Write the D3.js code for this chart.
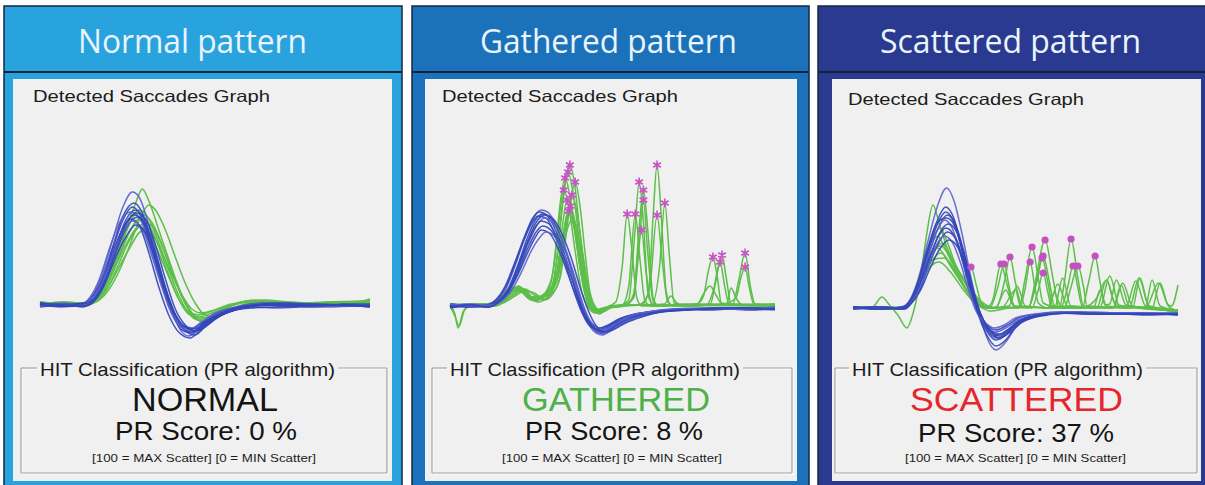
<!DOCTYPE html>
<html><head><meta charset="utf-8">
<script src="https://cdn.jsdelivr.net/npm/d3@7"></script>
<style>body{margin:0;background:#fff}svg{display:block}</style>
</head><body><svg id="c" width="1205" height="485"></svg>
<script>
// ---------------- DATA ----------------
const panelTitles = ["Normal pattern", "Gathered pattern", "Scattered pattern"];
const graphLabel = "Detected Saccades Graph";
const boxLabel = "HIT Classification (PR algorithm)";
const classLabels = ["NORMAL", "GATHERED", "SCATTERED"];
const prScores = [0, 8, 37];
const scaleNote = "[100 = MAX Scatter] [0 = MIN Scatter]";

// traces: [time (0-100), velocity, peakFlag]
const normalBlue = [
 [[0,0],[7,-2],[13,1],[16,10],[19,32],[22,65],[25,97],[28,113],[30,108],[33,80],[36,42],[39,5],[42,-22],[45,-31],[48,-25],[52,-13],[58,-5],[64,-2],[72,-3],[82,-1],[92,0],[100,-1]],
 [[0,2],[6,0],[13,2],[16,9],[19,28],[22,58],[25,88],[28.5,102],[31,92],[34,60],[37,25],[40,-5],[43,-22],[46,-27],[49,-20],[53,-11],[58,-4],[65,0],[72,1],[82,-2],[92,1],[100,0]],
 [[0,-1],[7,1],[13,-1],[16,6],[19,24],[22,55],[25,84],[28,98],[31,86],[34,55],[37,20],[40,-8],[43,-25],[46,-28],[49,-21],[53,-12],[59,-5],[66,-1],[74,0],[84,1],[100,-2]],
 [[0,1],[8,-1],[14,0],[17,8],[20,28],[23,58],[26,85],[29,95],[32,83],[35,52],[38,18],[41,-10],[44,-26],[47,-30],[50,-22],[54,-12],[60,-4],[67,0],[76,-2],[88,0],[100,1]],
 [[0,0],[7,2],[12,0],[15,7],[18,26],[21,56],[24,82],[27.5,93],[30,88],[33,62],[36,30],[39,-2],[42,-20],[45,-25],[48,-20],[52,-10],[58,-3],[65,1],[75,0],[86,-2],[100,0]],
 [[0,-2],[8,0],[13,-2],[16,5],[19,22],[22,50],[25,76],[28.5,90],[31,84],[34,55],[37,22],[40,-6],[43,-21],[46,-24],[49,-18],[54,-8],[60,-2],[68,2],[78,0],[90,-1],[100,-1]],
 [[0,1],[7,-1],[13,0],[16,6],[19,25],[22,52],[25,76],[27.5,86],[30,80],[33,52],[36,18],[39,-10],[42,-27],[45.5,-33],[48,-27],[52,-15],[58,-6],[64,-3],[72,-2],[84,0],[100,0]],
 [[0,0],[8,1],[14,1],[17,7],[20,25],[23,52],[26,76],[29.5,88],[32,80],[35,50],[38,16],[41,-10],[44,-22],[47,-26],[50,-20],[55,-10],[61,-3],[68,1],[78,-1],[90,0],[100,-2]],
 [[0,-1],[7,1],[13,0],[16,6],[19,23],[22,50],[25,72],[28,84],[31,76],[34,48],[37,17],[40,-8],[43,-20],[46,-23],[49,-17],[54,-8],[60,-2],[68,2],[80,1],[92,-1],[100,1]],
 [[0,2],[8,0],[14,2],[17,8],[20,24],[23,48],[26,68],[29,80],[32,72],[35,46],[38,15],[41,-9],[44,-22],[47,-24],[50,-17],[55,-8],[62,-1],[70,1],[82,0],[100,0]],
 [[0,0],[7,-1],[14,-1],[17,6],[20,24],[23,54],[26,80],[29,92],[32,86],[35,60],[38,26],[41,-4],[44,-20],[47,-26],[50,-22],[54,-12],[60,-4],[66,0],[74,2],[86,0],[100,-1]]
];
const normalGreen = [
 [[0,2],[7,0],[14,2],[17,9],[20,25],[23,48],[26,75],[29,102],[31,116],[33,104],[36,75],[39,46],[42,18],[45,-3],[48,-13],[51,-12],[55,-5],[60,2],[65,5],[70,3],[78,1],[86,2],[94,2],[100,6]],
 [[0,0],[8,2],[14,0],[17,6],[20,20],[23,45],[26,72],[30,95],[33,86],[36,62],[39,35],[42,10],[45,-8],[48,-15],[51,-12],[55,-5],[61,2],[66,4],[73,2],[82,0],[92,2],[100,3]],
 [[0,3],[8,1],[15,2],[18,8],[21,24],[24,48],[27,72],[31.5,90],[34,82],[37,60],[40,33],[43,8],[46,-10],[49,-16],[52,-12],[56,-4],[62,3],[68,4],[76,1],[86,3],[100,4]],
 [[0,1],[7,3],[14,1],[17,6],[20,20],[23,42],[26,66],[30.5,86],[33,80],[36,58],[39,30],[42,6],[45,-9],[48,-12],[52,-8],[57,-1],[63,4],[70,3],[80,1],[90,2],[100,2]],
 [[0,2],[8,0],[15,1],[18,6],[21,20],[24,42],[27,64],[32,82],[35,74],[38,50],[41,24],[44,2],[47,-12],[50,-18],[53,-14],[57,-6],[63,1],[70,3],[80,2],[92,1],[100,3]],
 [[0,0],[8,2],[14,2],[17,6],[20,20],[23,40],[26,60],[30,78],[33,72],[36,52],[39,28],[42,6],[45,-7],[48,-10],[52,-6],[58,1],[64,3],[72,2],[84,0],[100,2]],
 [[0,3],[9,1],[15,3],[18,8],[21,20],[24,38],[27,56],[31,74],[34,70],[37,52],[40,30],[43,10],[46,-4],[49,-8],[53,-5],[58,0],[64,4],[72,3],[82,2],[92,3],[100,4]],
 [[0,1],[8,3],[15,1],[18,5],[21,16],[24,34],[27,58],[30,84],[33,100],[35,95],[38,75],[41,48],[44,22],[47,2],[50,-10],[53,-12],[57,-6],[62,1],[68,5],[75,3],[85,2],[100,4]]
];
const gatheredBlue = [
 [[0,0],[6,1],[11,-1],[14,4],[17,16],[20,40],[23,68],[26,90],[28,96],[30,94],[33,78],[36,50],[39,18],[41,-6],[43,-20],[45,-27],[47,-29],[50,-22],[55,-14],[60,-9],[66,-5],[74,-3],[84,-2],[92,-3],[100,-2]],
 [[0,2],[7,0],[11,1],[14,6],[17,20],[20,44],[23,70],[25.5,88],[27.5,94],[30,90],[33,72],[36,44],[39,12],[41,-8],[43,-18],[45.5,-24],[48,-22],[52,-15],[57,-10],[63,-6],[70,-3],[80,-4],[90,-2],[100,-3]],
 [[0,-1],[6,0],[12,0],[15,5],[18,18],[21,42],[24,70],[26.5,87],[28.5,92],[31,88],[34,70],[37,42],[40,10],[42,-10],[44,-22],[46.5,-27],[49,-24],[53,-16],[58,-10],[64,-6],[72,-4],[82,-2],[92,-4],[100,-2]],
 [[0,1],[7,-1],[11,0],[14,5],[17,18],[20,42],[23,68],[25,82],[27,90],[29.5,88],[32,74],[35,48],[38,16],[40.5,-6],[42.5,-18],[45,-23],[48,-20],[52,-13],[57,-8],[64,-5],[72,-3],[84,-3],[100,-2]],
 [[0,0],[6,2],[12,0],[15,4],[18,15],[21,36],[24,62],[27,82],[29,88],[31.5,84],[34.5,66],[37.5,38],[40.5,6],[42.5,-12],[45,-24],[47.5,-28],[50,-24],[54,-16],[59,-10],[65,-6],[74,-4],[86,-3],[100,-4]],
 [[0,-2],[7,0],[12,-1],[15,4],[18,16],[21,38],[24,64],[26.5,80],[28,85],[30.5,82],[33.5,64],[36.5,38],[39.5,8],[41.5,-10],[44,-20],[46,-25],[49,-22],[53,-14],[58,-9],[64,-5],[72,-4],[84,-2],[100,-3]],
 [[0,1],[6,-1],[12,1],[15,5],[18,15],[21,34],[24,58],[26.5,74],[28.5,80],[31,76],[34,58],[37,32],[40,4],[42,-12],[44.5,-22],[47,-26],[50,-21],[54,-13],[60,-8],[67,-5],[76,-3],[88,-2],[100,-2]],
 [[0,0],[7,1],[12,0],[15,4],[18,14],[21,32],[24,54],[26.5,70],[28,76],[30.5,73],[33.5,56],[36.5,30],[39.5,4],[41.5,-10],[44,-19],[46.5,-22],[49,-19],[53,-12],[59,-7],[66,-4],[76,-3],[88,-3],[100,-2]],
 [[0,2],[7,0],[13,1],[16,5],[19,16],[22,34],[25,55],[27.5,68],[29.5,74],[32,70],[35,52],[38,26],[41,0],[43,-14],[45.5,-22],[48,-24],[51,-18],[55,-11],[61,-6],[68,-3],[78,-2],[90,-3],[100,-1]],
 [[0,-1],[6,1],[12,-1],[15,4],[18,16],[21,40],[24,66],[27,86],[29,91],[31.5,88],[34.5,72],[37.5,46],[40.5,14],[43,-8],[45,-20],[47.5,-26],[50,-24],[54,-17],[59,-11],[65,-6],[73,-4],[84,-2],[100,-3]]
];
const gatheredGreen = [
 [[0,1],[1.5,-8],[2.5,-22],[4,-6],[6,0],[10,1],[14,3],[17,10],[20,17],[23,14],[26,6],[29,12],[31,16],[33,50],[35,112],[36.9,141,1],[38.5,118],[40,72],[42,25],[44,0],[46,-8],[48,-3],[52,0],[58,1],[61,12],[62.5,90],[63.7,141,1],[65,90],[66.5,15],[68,1],[74,0],[80,1],[87,2],[88.8,25],[90.8,53,1],[92.5,18],[94,1],[100,0]],
 [[0,0],[1.5,-10],[2.8,-20],[4.5,-4],[7,1],[12,2],[15,6],[18,15],[21,19],[24,10],[27,8],[30,14],[32,25],[34,85],[36.3,134,1],[38,110],[40,60],[42,15],[44,-4],[46,-6],[49,-1],[53,1],[55,6],[56.8,70],[58.2,124,1],[59.6,80],[61,10],[63,0],[70,1],[76,2],[78,10],[79.5,35],[80.9,49,1],[82.2,30],[83.5,3],[88,1],[100,1]],
 [[0,2],[8,0],[13,2],[16,8],[19,16],[22,18],[25,9],[28,10],[30,17],[32,40],[33.8,100],[35.4,128,1],[37,108],[39,62],[41,20],[43,0],[45,-5],[48,-2],[54,1],[56.5,10],[58,70],[59.5,116,1],[61,70],[62.5,8],[64,1],[72,1],[80,1],[81.5,20],[82.7,40],[83.7,51,1],[85,28],[86.5,2],[92,1],[100,2]],
 [[0,1],[8,2],[14,1],[17,6],[20,14],[23,16],[26,7],[29,9],[32,15],[34,30],[36.5,90],[38.5,124,1],[40,100],[41.5,55],[43,15],[45,-2],[47,-6],[50,-1],[56,1],[62,1],[64.5,40],[66.1,103,1],[67.5,50],[69,3],[74,0],[79,1],[81,15],[83.1,44,1],[84.5,20],[86,1],[100,0]],
 [[0,0],[9,1],[14,2],[17,9],[20,18],[23,12],[26,5],[29,11],[31,22],[33,70],[35,116,1],[36.5,100],[38.5,55],[40.5,15],[42.5,-1],[45,-7],[48,-2],[53,0],[56.5,8],[58.2,60],[59.5,106,1],[60.8,55],[62.5,5],[64,0],[76,1],[84,2],[88,8],[89.5,28],[90.8,39,1],[92,20],[93.5,2],[100,1]],
 [[0,2],[8,1],[13,3],[16,10],[19,19],[22,15],[25,6],[28,8],[31,14],[33.5,32],[35.5,80],[37.5,111,1],[39,95],[41,50],[43,10],[45,-4],[47,-3],[49,0],[51,4],[53,40],[54.5,92,1],[56,55],[57.5,8],[59,0],[68,1],[76,2],[78,12],[80,20],[82,10],[84,1],[100,1]],
 [[0,0],[8,2],[14,0],[17,5],[20,12],[23,17],[26,11],[29,7],[31,12],[33,35],[34.8,85],[36,106,1],[37.8,90],[40,45],[42,10],[44,-3],[46,-5],[49,-1],[53,1],[55,20],[57,92,1],[58.5,45],[60,5],[62,0],[70,1],[80,2],[85,1],[86.5,18],[88,8],[90,1],[100,0]],
 [[0,1],[9,2],[14,1],[17,4],[20,10],[23,15],[26,13],[29,6],[32,14],[34,32],[35.5,75],[37,100,1],[38.6,82],[40.5,42],[42.5,8],[44.5,-4],[47,-2],[52,1],[59,1],[61.5,20],[63.7,91,1],[65.3,45],[67,4],[69,0],[78,1],[88,2],[100,1]],
 [[0,2],[8,0],[15,2],[18,11],[21,20],[24,12],[27,4],[30,9],[32,20],[34,55],[36.5,95,1],[38,80],[40,38],[42,6],[44,-6],[46,-7],[49,-2],[54,0],[56.5,12],[58.9,76,1],[60.3,35],[62,3],[64,0],[72,2],[84,1],[100,2]],
 [[0,1],[10,0],[15,4],[18,12],[21,16],[24,9],[27,7],[30,14],[33,28],[35.5,70],[37.8,88],[39.5,70],[41.5,30],[43.5,2],[46,-4],[50,0],[60,1],[66,2],[68,10],[69.5,4],[71,1],[100,1]],
 [[0,0],[9,2],[15,3],[18,14],[21,18],[24,8],[27,6],[30,13],[33,30],[35,75],[36.8,92],[38.5,78],[40.5,35],[42.5,4],[45,-5],[49,-1],[55,1],[100,0]]
];
const scatteredBlue = [
 [[0,0],[8,-1],[15,1],[17.5,8],[20,28],[23,66],[26,102],[28.8,120],[31,108],[33.5,75],[36,35],[38.5,0],[41,-28],[44,-42],[47,-34],[50,-20],[54,-10],[60,-6],[68,-4],[78,-6],[88,-5],[100,-6]],
 [[0,1],[8,0],[15,0],[17.5,6],[20,25],[23,58],[26,88],[28.5,101],[31,90],[33.5,60],[36,25],[38.5,-4],[41,-22],[44,-32],[47,-27],[50,-16],[55,-9],[62,-5],[72,-6],[84,-5],[100,-7]],
 [[0,-1],[8,1],[15,-1],[17.5,5],[20,22],[23,55],[26,84],[28.5,96],[31,86],[33.5,58],[36,24],[38.5,-2],[41,-20],[44.5,-30],[47.5,-25],[51,-14],[56,-8],[63,-5],[74,-5],[86,-6],[100,-5]],
 [[0,1],[7,-1],[16,0],[18,6],[20.5,24],[23.5,56],[26.5,82],[29,93],[31.5,84],[34,58],[36.5,24],[39,-4],[41.5,-20],[45,-28],[48,-22],[52,-12],[58,-7],[66,-5],[76,-6],[88,-6],[100,-6]],
 [[0,0],[8,1],[15,0],[17.5,5],[20,20],[23,50],[25.8,77],[28.2,88],[30.5,80],[33,55],[35.5,24],[38,-2],[40.5,-16],[44,-24],[47,-20],[51,-12],[57,-7],[64,-5],[74,-4],[86,-6],[100,-5]],
 [[0,-1],[8,0],[16,-1],[18,5],[20.5,20],[23.5,48],[26.5,74],[29.3,84],[31.8,77],[34.3,52],[36.8,20],[39.3,-6],[42,-22],[45,-30],[48,-25],[52,-14],[58,-8],[66,-5],[78,-5],[90,-7],[100,-6]],
 [[0,1],[8,-1],[15,1],[17.5,6],[20,20],[23,46],[26,70],[28.6,80],[31,73],[33.5,50],[36,20],[38.5,-3],[41,-16],[44,-22],[47,-18],[51,-10],[57,-6],[64,-4],[76,-5],[88,-6],[100,-6]],
 [[0,0],[8,1],[16,0],[18,5],[20.5,18],[23.5,44],[26.5,66],[29,76],[31.5,70],[34,48],[36.5,18],[39,-6],[41.5,-20],[44.5,-27],[47.5,-22],[51,-13],[57,-7],[65,-5],[75,-6],[88,-5],[100,-7]],
 [[0,-1],[8,0],[15,0],[17.5,4],[20,16],[23,40],[25.5,62],[28,72],[30.5,66],[33,46],[35.5,18],[38,-4],[40.5,-14],[43.5,-20],[46.5,-17],[50,-10],[56,-6],[64,-4],[76,-5],[90,-5],[100,-5]],
 [[0,1],[8,-1],[16,1],[18,5],[20.5,16],[23.5,38],[26.5,58],[29.5,68],[32,62],[34.5,42],[37,14],[39.5,-8],[42,-22],[45.5,-26],[48.5,-20],[52,-12],[58,-7],[66,-5],[78,-6],[90,-6],[100,-6]],
 [[0,0],[8,1],[15,-1],[17.5,7],[20,26],[23,60],[26,86],[28.8,90],[31,84],[33.5,60],[36,26],[38.5,-6],[41,-26],[44,-38],[47,-32],[50,-19],[55,-10],[61,-6],[70,-5],[82,-6],[100,-6]]
];
const scatteredGreen = [
 [[0,0],[6,1],[8.9,11],[11,4],[14,-8],[16.6,-20],[18.5,-5],[20.5,25],[22.5,70],[24.6,103],[26.5,85],[29,60],[32,40],[35,22],[38,8],[41,0],[43,8],[45.5,44,1],[47.5,22],[50,1],[54,0],[56,25],[59.1,68,1],[61.5,30],[63.5,0],[65,25],[67.1,69,1],[69.2,30],[71,1],[75,10],[78,28],[80.5,5],[83,2],[100,-3]],
 [[0,1],[10,0],[16,1],[18.5,12],[21,38],[24,66],[26.8,80],[29,66],[31.5,44],[34,30],[36.3,41,1],[38,22],[39.5,5],[42,0],[48,1],[51,0],[53,30],[55.1,61,1],[57,30],[58.5,5],[64,0],[70.5,0],[72.5,26],[74.5,52,1],[76,26],[77.5,3],[79,4],[81,28],[84,3],[100,-3]],
 [[0,-1],[9,1],[16,0],[18.5,10],[21,32],[23.5,58],[26,72],[28,62],[30,48],[34,28],[38,10],[42,0],[44.5,20],[46.5,44,1],[48,22],[49.5,2],[54,1],[56.5,25],[58.5,52,1],[60.5,25],[62,2],[64,1],[66,20],[67.7,42,1],[69.2,20],[70.5,2],[85,0],[88,30],[91,2],[100,-4]],
 [[0,1],[10,-1],[16,1],[18.5,9],[21,28],[24,52],[27.5,65],[31,45],[35,25],[39,8],[44,0],[46.5,25],[48.3,51,1],[50,25],[52,2],[55,0],[57,18],[58.5,35,1],[60,15],[61,2],[65,0],[67,20],[69.2,42,1],[71,20],[72,2],[90,0],[94,25],[97,3],[98,2],[100,23]],
 [[0,0],[9,1],[16,-1],[18.5,10],[21,30],[23.5,50],[26,60],[30,42],[34,22],[38,6],[42,0],[46,1],[50,18],[51.5,2],[53,20],[54.5,46,1],[56,20],[57,5],[60,0],[63,24],[66,2],[80,0],[83,25],[86,2],[100,-2]],
 [[0,1],[10,0],[16,1],[18.5,8],[21,26],[24,46],[27,55],[31,38],[35,18],[39,4],[44,0],[48,0],[54,1],[56.2,25],[58.2,50,1],[60,25],[61.5,2],[75,0],[78,28],[81,2],[84,1],[87,27],[90,2],[100,-2]],
 [[0,1],[10,0],[16,1],[18.5,12],[21,35],[24,48],[28,50],[31,40],[34,22],[37,8],[40,0],[44,1],[47,18],[49.5,2],[60,0],[62,15],[64,2],[74,0],[76,18],[78,2],[86,0],[88.3,30],[91,2],[100,-2]],
 [[0,-1],[10,1],[16,0],[18.5,10],[21,30],[24,55],[27,62],[30,50],[33,30],[36,12],[39,2],[42,-3],[48,0],[52,1],[56,1],[60,0],[80,0],[82.5,23],[85,2],[92,0],[94.5,25],[97,2],[100,-3]],
 [[0,0],[10,1],[16,0],[18.5,9],[21,26],[24,42],[26.5,46],[30,36],[34,18],[38,4],[42,0],[48,2],[50.5,22],[53,2],[62,0],[64.5,30],[67,2],[76,1],[79,32],[82,2],[90,1],[92,28],[94.5,2],[100,-3]]
];

// ---------------- LAYOUT ----------------
const panels = [
 {blue: normalBlue, green: normalGreen, x0:4, x1:402, ix0:13, ix1:392, head:'#29A3DE',
  tx:192.5, tw:229, dx:33, dy:102, dw:237, fl:21, fr:387, hx:40, hw:295,
  cx:205, cw:146, ccol:'#141414', px:206, pw:182, py:440, bx:204, bw:224, plot:[40,370], base:305, mark:null},
 {blue: gatheredBlue, green: gatheredGreen, x0:412, x1:809, ix0:425, ix1:797, head:'#1C72BA',
  tx:608.5, tw:257, dx:442, dy:102, dw:236, fl:432, fr:792, hx:450, hw:290,
  cx:616, cw:188, ccol:'#4DB048', px:614, pw:178, py:440, bx:612, bw:220, plot:[450,775], base:306, mark:'star'},
 {blue: scatteredBlue, green: scatteredGreen, x0:818, x1:1212, ix0:832, ix1:1201, head:'#2B3A91',
  tx:1010.5, tw:261, dx:848, dy:105, dw:236, fl:835, fr:1197, hx:852, hw:291,
  cx:1016.5, cw:213, ccol:'#E5262C', px:1016, pw:196, py:442, bx:1015.5, bw:221, plot:[853,1178], base:308, mark:'dot'}
];

const svg = d3.select('#c');
const sans = "'Liberation Sans', Arial, Helvetica, sans-serif";

panels.forEach((p, i) => {
  const g = svg.append('g');
  g.append('rect').attr('x', p.x0).attr('y', 6).attr('width', p.x1 - p.x0).attr('height', 485)
    .attr('fill', p.head).attr('stroke', '#14283f').attr('stroke-width', 1.5);
  g.append('line').attr('x1', p.x0).attr('x2', p.x1).attr('y1', 72).attr('y2', 72)
    .attr('stroke', '#10253c').attr('stroke-width', 2.2);
  g.append('text').attr('x', p.tx).attr('y', 53).attr('text-anchor', 'middle')
    .attr('font-family', "'Open Sans', 'Noto Sans', sans-serif").attr('font-size', 33)
    .attr('fill', '#E9F4FB').attr('textLength', p.tw).attr('lengthAdjust', 'spacingAndGlyphs')
    .text(panelTitles[i]);
  g.append('rect').attr('x', p.ix0).attr('y', 79).attr('width', p.ix1 - p.ix0).attr('height', 402)
    .attr('fill', '#F0F0F0');
  g.append('text').attr('x', p.dx).attr('y', p.dy).attr('font-family', sans).attr('font-size', 16.5)
    .attr('fill', '#1c1c1c').attr('textLength', p.dw).attr('lengthAdjust', 'spacingAndGlyphs')
    .text(graphLabel);

  const x = d3.scaleLinear().domain([0, 100]).range(p.plot);
  const y = d3.scaleLinear().domain([-50, 150]).range([p.base + 50, p.base - 150]);
  const line = d3.line().x(d => x(d[0])).y(d => y(d[1])).curve(d3.curveMonotoneX);

  const plot = g.append('g');
  plot.selectAll('path.gr').data(p.green).join('path').attr('class', 'gr')
    .attr('d', line).attr('fill', 'none').attr('stroke', '#5DBE4A').attr('stroke-width', 1.5)
    .attr('stroke-linejoin', 'round');
  plot.selectAll('path.bl').data(p.blue).join('path').attr('class', 'bl')
    .attr('d', line).attr('fill', 'none')
    .attr('stroke', (d, j) => (j % 4 === 0 ? '#5C62CC' : '#3347B8'))
    .attr('stroke-width', 1.5).attr('stroke-opacity', 0.92).attr('stroke-linejoin', 'round');

  const peaks = p.green.flatMap(t => t.filter(pt => pt[2] === 1));
  if (p.mark === 'star') {
    const sym = d3.symbol().type(d3.symbolAsterisk || d3.symbolCross).size(55);
    plot.selectAll('path.mk').data(peaks).join('path').attr('class', 'mk')
      .attr('transform', d => `translate(${x(d[0])},${y(d[1])})`).attr('d', sym)
      .attr('fill', '#C950C6').attr('stroke', '#C950C6').attr('stroke-width', 1.6);
  } else if (p.mark === 'dot') {
    plot.selectAll('circle.mk').data(peaks).join('circle').attr('class', 'mk')
      .attr('cx', d => x(d[0])).attr('cy', d => y(d[1])).attr('r', 3.6).attr('fill', '#C64FC3');
  }

  const top = 368, bot = 473;
  const gap0 = p.hx - 3, gap1 = p.hx + p.hw + 3;
  const fs = g.append('g').attr('fill', 'none');
  const segs = [
    [p.fl, top, gap0, top], [gap1, top, p.fr, top],
    [p.fl, top, p.fl, bot], [p.fr, top, p.fr, bot], [p.fl, bot, p.fr, bot]
  ];
  segs.forEach(s => {
    fs.append('line').attr('x1', s[0] + 1).attr('y1', s[1] + 1).attr('x2', s[2] + 1).attr('y2', s[3] + 1)
      .attr('stroke', '#ffffff').attr('stroke-width', 1);
    fs.append('line').attr('x1', s[0]).attr('y1', s[1]).attr('x2', s[2]).attr('y2', s[3])
      .attr('stroke', '#a3a3a3').attr('stroke-width', 1.2);
  });
  g.append('text').attr('x', p.hx).attr('y', 376).attr('font-family', sans).attr('font-size', 18.5)
    .attr('fill', '#1c1c1c').attr('textLength', p.hw).attr('lengthAdjust', 'spacingAndGlyphs')
    .text(boxLabel);
  g.append('text').attr('x', p.cx).attr('y', 411).attr('text-anchor', 'middle').attr('font-family', sans)
    .attr('font-size', 34).attr('fill', p.ccol).attr('textLength', p.cw).attr('lengthAdjust', 'spacingAndGlyphs')
    .text(classLabels[i]);
  g.append('text').attr('x', p.px).attr('y', p.py).attr('text-anchor', 'middle').attr('font-family', sans)
    .attr('font-size', 25).attr('fill', '#141414').attr('textLength', p.pw).attr('lengthAdjust', 'spacingAndGlyphs')
    .text(`PR Score: ${prScores[i]} %`);
  g.append('text').attr('x', p.bx).attr('y', 462).attr('text-anchor', 'middle').attr('font-family', sans)
    .attr('font-size', 11).attr('fill', '#1c1c1c').attr('textLength', p.bw).attr('lengthAdjust', 'spacingAndGlyphs')
    .text(scaleNote);
});
</script></body></html>
